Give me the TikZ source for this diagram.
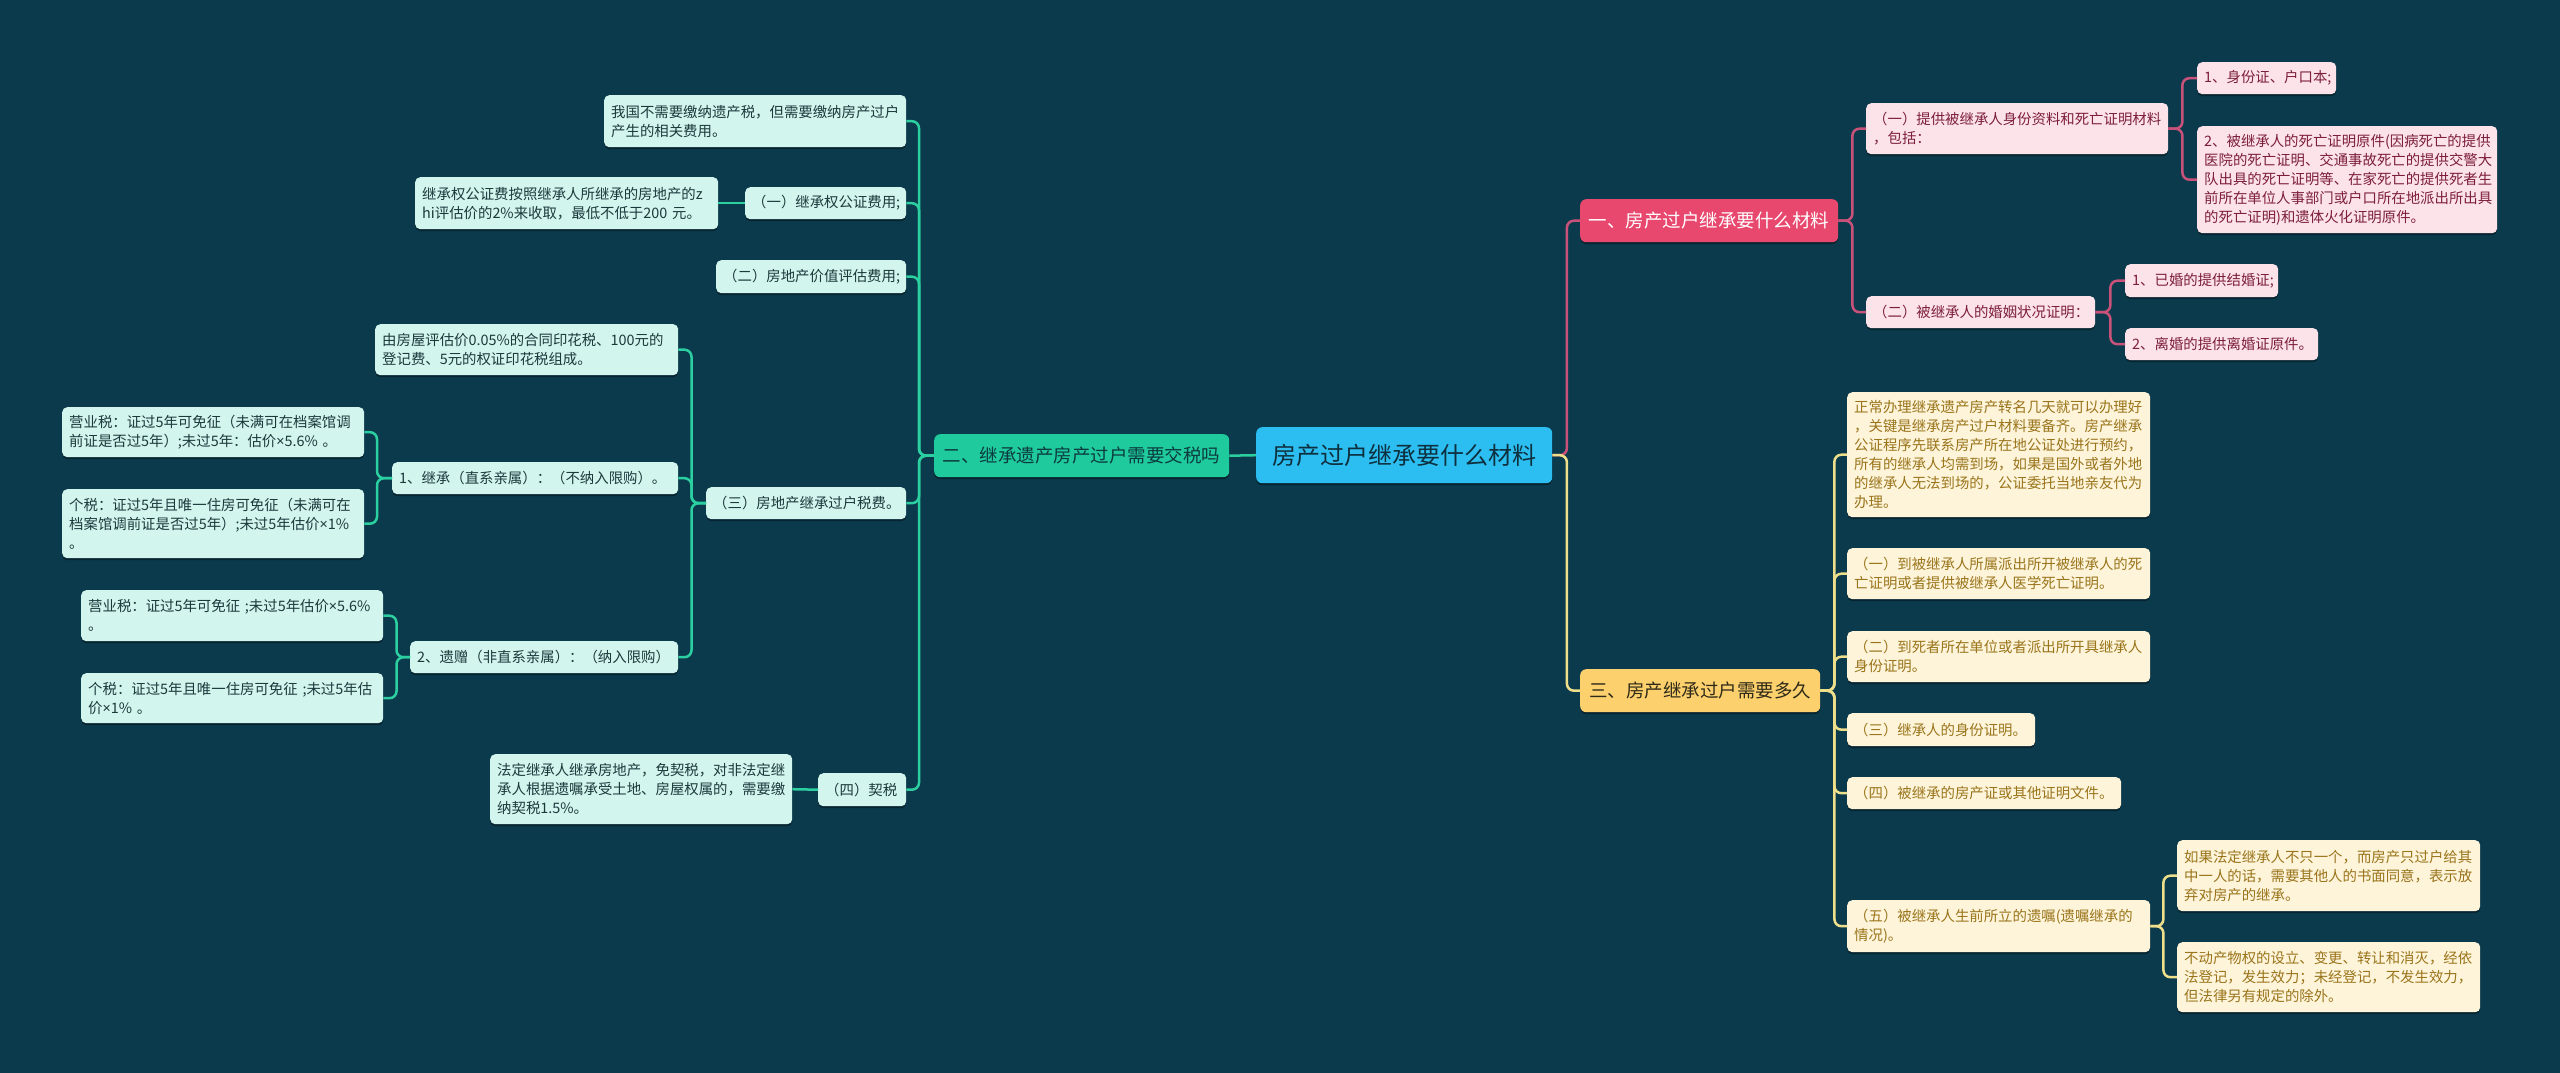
\documentclass[tikz,border=0pt]{standalone}
\usepackage{fontspec}
\setmainfont{Noto Sans CJK SC}
\newfontfamily\latinf{Noto Sans}
\newcommand\tms{{\latinf ×}}
\usetikzlibrary{shadows}
\definecolor{bg}{HTML}{0B3A4C}
\definecolor{rootfill}{HTML}{2CBEF0}
\definecolor{roottext}{HTML}{0E2F3E}
\definecolor{gbranch}{HTML}{1FCB9C}
\definecolor{gbranchtext}{HTML}{0C3B40}
\definecolor{gfill}{HTML}{D2F5EE}
\definecolor{gtext}{HTML}{1B3A3C}
\definecolor{gline}{HTML}{2CCFA0}
\definecolor{pbranch}{HTML}{E8486E}
\definecolor{pfill}{HTML}{FCE3EA}
\definecolor{ptext}{HTML}{7D1E3C}
\definecolor{pline}{HTML}{C9527A}
\definecolor{ybranch}{HTML}{FDD06E}
\definecolor{ybranchtext}{HTML}{2E2A18}
\definecolor{yfill}{HTML}{FDF4DA}
\definecolor{ytext}{HTML}{9A741A}
\definecolor{yline}{HTML}{EFDF8A}
\tikzset{
  shad/.style={drop shadow={shadow xshift=0pt,shadow yshift=-2pt,opacity=0.35,fill=black}},
  basebox/.style={shad,rounded corners=5pt,inner xsep=7pt,inner ysep=0pt,anchor=north west,align=left,
    font=\fontsize{14.4}{19}\selectfont},
  gbox/.style={basebox,fill=gfill,text=gtext},
  pbox/.style={basebox,fill=pfill,text=ptext},
  ybox/.style={basebox,fill=yfill,text=ytext},
  bigbox/.style={shad,rounded corners=6pt,inner sep=0pt,anchor=north west,align=center},
  glink/.style={draw=gline,line width=2.5pt,rounded corners=7pt},
  plink/.style={draw=pline,line width=2.5pt,rounded corners=7pt},
  ylink/.style={draw=yline,line width=2.5pt,rounded corners=7pt},
}
\newcommand\tbox[7]{%
  \pgfmathsetmacro\bh{#6-#4}\pgfmathsetmacro\tw{#5-#3-14}%
  \node[#1,text width=\tw pt,minimum height=\bh pt] (#2) at (#3,#4) {#7};}
\newcommand\bbox[7]{%
  \pgfmathsetmacro\bw{#5-#3}\pgfmathsetmacro\bh{#6-#4}%
  \node[#1,minimum width=\bw pt,minimum height=\bh pt] (#2) at (#3,#4) {#7};}
\begin{document}
\begin{tikzpicture}[x=1pt,y=-1pt]
\fill[bg] (0,0) rectangle (2560,1073);
\useasboundingbox (0,0) rectangle (2560,1073);

% root and branches
\bbox{bigbox,fill=rootfill,text=roottext,font=\fontsize{24}{28}\selectfont}{root}{1256}{427}{1552}{483}{房产过户继承要什么材料}
\bbox{bigbox,fill=gbranch,text=gbranchtext,font=\fontsize{18.5}{22}\selectfont}{b2}{934}{434}{1229}{477}{二、继承遗产房产过户需要交税吗}
\bbox{bigbox,fill=pbranch,text=white,font=\fontsize{18.5}{22}\selectfont}{b1}{1580}{199}{1838}{242}{一、房产过户继承要什么材料}
\bbox{bigbox,fill=ybranch,text=ybranchtext,font=\fontsize{18.5}{22}\selectfont}{b3}{1580}{669}{1820}{712}{三、房产继承过户需要多久}

% pink side
\tbox{pbox}{p1}{1866}{103}{2168}{154}{（一）提供被继承人身份资料和死亡证明材料\\，包括：}
\tbox{pbox}{p11}{2197}{62}{2336}{94}{1、身份证、户口本;}
\tbox{pbox}{p12}{2197}{126}{2497}{233}{2、被继承人的死亡证明原件(因病死亡的提供\\医院的死亡证明、交通事故死亡的提供交警大\\队出具的死亡证明等、在家死亡的提供死者生\\前所在单位人事部门或户口所在地派出所出具\\的死亡证明)和遗体火化证明原件。}
\tbox{pbox}{p2}{1866}{296}{2095}{328}{（二）被继承人的婚姻状况证明：}
\tbox{pbox}{p21}{2125}{264}{2278}{297}{1、已婚的提供结婚证;}
\tbox{pbox}{p22}{2125}{328}{2318}{360}{2、离婚的提供离婚证原件。}

% yellow side
\tbox{ybox}{y0}{1847}{392}{2150}{517}{正常办理继承遗产房产转名几天就可以办理好\\，关键是继承房产过户材料要备齐。房产继承\\公证程序先联系房产所在地公证处进行预约，\\所有的继承人均需到场，如果是国外或者外地\\的继承人无法到场的，公证委托当地亲友代为\\办理。}
\tbox{ybox}{y1}{1847}{548}{2150}{599}{（一）到被继承人所属派出所开被继承人的死\\亡证明或者提供被继承人医学死亡证明。}
\tbox{ybox}{y2}{1847}{631}{2150}{682}{（二）到死者所在单位或者派出所开具继承人\\身份证明。}
\tbox{ybox}{y3}{1847}{713}{2035}{746}{（三）继承人的身份证明。}
\tbox{ybox}{y4}{1847}{777}{2121}{809}{（四）被继承的房产证或其他证明文件。}
\tbox{ybox}{y5}{1847}{900}{2150}{952}{（五）被继承人生前所立的遗嘱(遗嘱继承的\\情况)。}
\tbox{ybox}{y51}{2177}{840}{2480}{911}{如果法定继承人不只一个，而房产只过户给其\\中一人的话，需要其他人的书面同意，表示放\\弃对房产的继承。}
\tbox{ybox}{y52}{2177}{942}{2480}{1012}{不动产物权的设立、变更、转让和消灭，经依\\法登记，发生效力；未经登记，不发生效力，\\但法律另有规定的除外。}

% green side
\tbox{gbox}{g0}{604}{95}{906}{147}{我国不需要缴纳遗产税，但需要缴纳房产过户\\产生的相关费用。}
\tbox{gbox}{g1}{745}{187}{906}{219}{（一）继承权公证费用;}
\tbox{gbox}{g1a}{415}{177}{718}{229}{继承权公证费按照继承人所继承的房地产的z\\hi评估价的2\%来收取，最低不低于200 元。}
\tbox{gbox}{g2}{716}{260}{906}{293}{（二）房地产价值评估费用;}
\tbox{gbox}{g3}{706}{487}{906}{519}{（三）房地产继承过户税费。}
\tbox{gbox}{g3a}{375}{324}{678}{375}{由房屋评估价0.05\%的合同印花税、100元的\\登记费、5元的权证印花税组成。}
\tbox{gbox}{g3b}{392}{462}{678}{494}{1、继承（直系亲属）：（不纳入限购）。}
\tbox{gbox}{g3b1}{62}{407}{364}{457}{营业税：证过5年可免征（未满可在档案馆调\\前证是否过5年）;未过5年：估价\tms5.6\% 。}
\tbox{gbox}{g3b2}{62}{489}{364}{558}{个税：证过5年且唯一住房可免征（未满可在\\档案馆调前证是否过5年）;未过5年估价\tms1\%\\。}
\tbox{gbox}{g3c}{410}{641}{678}{673}{2、遗赠（非直系亲属）：（纳入限购）}
\tbox{gbox}{g3c1}{81}{590}{383}{641}{\mbox{营业税：证过5年可免征~;未过5年估价\tms5.6\%}\\。}
\tbox{gbox}{g3c2}{81}{673}{383}{723}{\mbox{个税：证过5年且唯一住房可免征~;未过5年估}\\价\tms1\% 。}
\tbox{gbox}{g4}{818}{773}{906}{806}{（四）契税}
\tbox{gbox}{g4a}{490}{754}{792}{824}{法定继承人继承房地产，免契税，对非法定继\\承人根据遗嘱承受土地、房屋权属的，需要缴\\纳契税1.5\%。}

% connectors
\draw[glink] (root.west) -- (b2.east);
\draw[plink] (root.east) -- ++(14.5,0) |- (b1.west);
\draw[ylink] (root.east) -- ++(14.5,0) |- (b3.west);

\draw[plink] (b1.east) -- ++(14,0) |- (p1.west);
\draw[plink] (b1.east) -- ++(14,0) |- (p2.west);
\draw[plink] (p1.east) -- ++(14,0) |- (p11.west);
\draw[plink] (p1.east) -- ++(14,0) |- (p12.west);
\draw[plink] (p2.east) -- ++(15,0) |- (p21.west);
\draw[plink] (p2.east) -- ++(15,0) |- (p22.west);

\foreach \c in {y0,y1,y2,y3,y4,y5}
  \draw[ylink] (b3.east) -- ++(14,0) |- (\c.west);
\draw[ylink] (y5.east) -- ++(13,0) |- (y51.west);
\draw[ylink] (y5.east) -- ++(13,0) |- (y52.west);

\foreach \c in {g0,g1,g2,g3,g4}
  \draw[glink] (b2.west) -- ++(-15,0) |- (\c.east);
\draw[glink] (g1.west) -- (g1a.east);
\draw[glink] (g4.west) -- (g4a.east);
\draw[glink] (g3.west) -- ++(-14.5,0) |- (g3a.east);
\draw[glink] (g3.west) -- ++(-14.5,0) |- (g3b.east);
\draw[glink] (g3.west) -- ++(-14.5,0) |- (g3c.east);
\draw[glink] (g3b.west) -- ++(-15,0) |- (g3b1.east);
\draw[glink] (g3b.west) -- ++(-15,0) |- (g3b2.east);
\draw[glink] (g3c.west) -- ++(-13.5,0) |- (g3c1.east);
\draw[glink] (g3c.west) -- ++(-13.5,0) |- (g3c2.east);
\end{tikzpicture}
\end{document}
